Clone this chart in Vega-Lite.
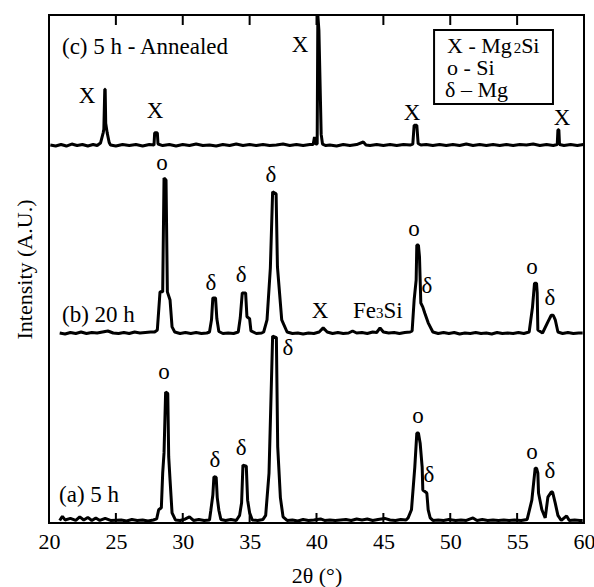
{
"$schema": "https://vega.github.io/schema/vega-lite/v6.json",
"width": 535, "height": 508,
"autosize": {"type": "none"},
"padding": {"left": 49, "top": 15, "right": 10, "bottom": 64},
"background": "white",
"config": {"view": {"stroke": "black", "strokeWidth": 2}, "font": "Liberation Serif"},
"resolve": {"axis": {"x": "independent", "y": "independent"}},
"datasets": {
"trace": [
{"s":"a","t":20.8,"i":0.5},{"s":"a","t":21.0,"i":1.3},{"s":"a","t":21.2,"i":0.6},{"s":"a","t":21.6,"i":0.9},{"s":"a","t":22.0,"i":0.5},{"s":"a","t":22.3,"i":1.2},{"s":"a","t":22.6,"i":0.6},{"s":"a","t":22.9,"i":1.1},{"s":"a","t":23.2,"i":0.5},{"s":"a","t":23.5,"i":1.0},{"s":"a","t":23.8,"i":0.5},{"s":"a","t":24.2,"i":0.9},{"s":"a","t":24.6,"i":0.5},{"s":"a","t":25.4,"i":0.6},{"s":"a","t":25.8,"i":0.4},{"s":"a","t":26.2,"i":0.7},{"s":"a","t":26.6,"i":0.5},{"s":"a","t":27.0,"i":0.6},{"s":"a","t":27.4,"i":0.4},{"s":"a","t":27.8,"i":0.6},{"s":"a","t":28.05,"i":0.8},{"s":"a","t":28.2,"i":2.6},{"s":"a","t":28.4,"i":3.0},{"s":"a","t":28.5,"i":9.8},{"s":"a","t":28.6,"i":13.8},{"s":"a","t":28.72,"i":25.8},{"s":"a","t":28.88,"i":25.5},{"s":"a","t":28.95,"i":13.0},{"s":"a","t":29.05,"i":8.5},{"s":"a","t":29.2,"i":2.0},{"s":"a","t":29.45,"i":0.6},{"s":"a","t":29.8,"i":0.5},{"s":"a","t":30.2,"i":0.8},{"s":"a","t":30.5,"i":1.2},{"s":"a","t":30.8,"i":0.5},{"s":"a","t":31.2,"i":0.7},{"s":"a","t":31.6,"i":0.5},{"s":"a","t":32.0,"i":0.6},{"s":"a","t":32.1,"i":2.5},{"s":"a","t":32.25,"i":5.5},{"s":"a","t":32.33,"i":9.1},{"s":"a","t":32.5,"i":9.0},{"s":"a","t":32.58,"i":5.0},{"s":"a","t":32.7,"i":2.5},{"s":"a","t":32.85,"i":0.7},{"s":"a","t":33.2,"i":0.5},{"s":"a","t":33.6,"i":0.7},{"s":"a","t":34.0,"i":0.5},{"s":"a","t":34.25,"i":1.5},{"s":"a","t":34.4,"i":4.0},{"s":"a","t":34.5,"i":11.4},{"s":"a","t":34.75,"i":11.2},{"s":"a","t":34.85,"i":4.5},{"s":"a","t":35.0,"i":2.0},{"s":"a","t":35.2,"i":0.6},{"s":"a","t":35.6,"i":0.5},{"s":"a","t":36.0,"i":0.7},{"s":"a","t":36.2,"i":1.5},{"s":"a","t":36.45,"i":9.8},{"s":"a","t":36.72,"i":36.8},{"s":"a","t":37.0,"i":36.5},{"s":"a","t":37.1,"i":15.0},{"s":"a","t":37.3,"i":5.0},{"s":"a","t":37.5,"i":1.2},{"s":"a","t":37.8,"i":0.5},{"s":"a","t":38.2,"i":0.6},{"s":"a","t":38.6,"i":0.4},{"s":"a","t":39.0,"i":0.7},{"s":"a","t":39.4,"i":0.5},{"s":"a","t":39.8,"i":0.6},{"s":"a","t":40.3,"i":0.8},{"s":"a","t":40.6,"i":0.5},{"s":"a","t":41.0,"i":0.6},{"s":"a","t":41.4,"i":0.5},{"s":"a","t":41.8,"i":0.6},{"s":"a","t":42.2,"i":0.7},{"s":"a","t":42.6,"i":0.5},{"s":"a","t":43.0,"i":0.8},{"s":"a","t":43.4,"i":0.6},{"s":"a","t":43.8,"i":0.8},{"s":"a","t":44.2,"i":0.5},{"s":"a","t":44.6,"i":0.7},{"s":"a","t":45.1,"i":0.9},{"s":"a","t":45.5,"i":0.6},{"s":"a","t":45.9,"i":0.5},{"s":"a","t":46.3,"i":0.7},{"s":"a","t":46.7,"i":0.6},{"s":"a","t":46.85,"i":1.0},{"s":"a","t":47.1,"i":2.6},{"s":"a","t":47.35,"i":11.0},{"s":"a","t":47.5,"i":17.7},{"s":"a","t":47.62,"i":17.7},{"s":"a","t":47.75,"i":15.7},{"s":"a","t":47.9,"i":11.0},{"s":"a","t":47.95,"i":6.5},{"s":"a","t":48.25,"i":5.9},{"s":"a","t":48.35,"i":2.6},{"s":"a","t":48.5,"i":1.0},{"s":"a","t":48.7,"i":0.5},{"s":"a","t":49.1,"i":0.6},{"s":"a","t":49.5,"i":0.5},{"s":"a","t":49.9,"i":0.7},{"s":"a","t":50.4,"i":0.5},{"s":"a","t":50.8,"i":0.6},{"s":"a","t":51.2,"i":0.5},{"s":"a","t":51.7,"i":1.0},{"s":"a","t":52.0,"i":0.5},{"s":"a","t":52.4,"i":0.7},{"s":"a","t":52.8,"i":0.5},{"s":"a","t":53.2,"i":0.6},{"s":"a","t":53.6,"i":0.5},{"s":"a","t":54.0,"i":0.6},{"s":"a","t":54.4,"i":0.5},{"s":"a","t":54.8,"i":0.6},{"s":"a","t":55.3,"i":0.5},{"s":"a","t":55.75,"i":0.7},{"s":"a","t":56.1,"i":4.5},{"s":"a","t":56.35,"i":10.8},{"s":"a","t":56.45,"i":10.8},{"s":"a","t":56.55,"i":9.8},{"s":"a","t":56.6,"i":5.9},{"s":"a","t":56.85,"i":2.6},{"s":"a","t":57.1,"i":1.0},{"s":"a","t":57.3,"i":5.1},{"s":"a","t":57.55,"i":6.1},{"s":"a","t":57.65,"i":6.1},{"s":"a","t":57.85,"i":3.9},{"s":"a","t":58.05,"i":1.5},{"s":"a","t":58.3,"i":0.5},{"s":"a","t":58.7,"i":1.4},{"s":"a","t":58.9,"i":0.5},{"s":"a","t":59.3,"i":0.6},{"s":"a","t":59.7,"i":0.5},{"s":"a","t":59.9,"i":0.5},
{"s":"b","t":20.8,"i":37.4},{"s":"b","t":21.2,"i":37.2},{"s":"b","t":21.6,"i":37.5},{"s":"b","t":22.0,"i":37.3},{"s":"b","t":22.4,"i":37.6},{"s":"b","t":22.8,"i":37.3},{"s":"b","t":23.2,"i":37.5},{"s":"b","t":23.6,"i":37.4},{"s":"b","t":24.0,"i":37.6},{"s":"b","t":24.4,"i":37.8},{"s":"b","t":24.8,"i":37.4},{"s":"b","t":25.2,"i":37.3},{"s":"b","t":25.6,"i":37.5},{"s":"b","t":26.0,"i":37.3},{"s":"b","t":26.4,"i":37.6},{"s":"b","t":26.8,"i":37.4},{"s":"b","t":27.2,"i":37.5},{"s":"b","t":27.6,"i":37.6},{"s":"b","t":27.9,"i":37.6},{"s":"b","t":28.1,"i":38.0},{"s":"b","t":28.3,"i":45.5},{"s":"b","t":28.5,"i":45.5},{"s":"b","t":28.6,"i":67.9},{"s":"b","t":28.75,"i":67.5},{"s":"b","t":28.85,"i":45.5},{"s":"b","t":29.05,"i":43.9},{"s":"b","t":29.2,"i":38.6},{"s":"b","t":29.4,"i":37.6},{"s":"b","t":29.8,"i":37.3},{"s":"b","t":30.2,"i":37.5},{"s":"b","t":30.6,"i":37.3},{"s":"b","t":31.0,"i":37.5},{"s":"b","t":31.4,"i":37.3},{"s":"b","t":31.8,"i":37.4},{"s":"b","t":32.0,"i":37.6},{"s":"b","t":32.15,"i":40.0},{"s":"b","t":32.25,"i":44.3},{"s":"b","t":32.45,"i":44.3},{"s":"b","t":32.55,"i":40.2},{"s":"b","t":32.7,"i":37.7},{"s":"b","t":33.0,"i":37.3},{"s":"b","t":33.4,"i":37.4},{"s":"b","t":33.8,"i":37.3},{"s":"b","t":34.15,"i":37.6},{"s":"b","t":34.3,"i":40.4},{"s":"b","t":34.45,"i":45.3},{"s":"b","t":34.7,"i":45.3},{"s":"b","t":34.8,"i":40.6},{"s":"b","t":35.0,"i":40.2},{"s":"b","t":35.1,"i":37.8},{"s":"b","t":35.5,"i":37.3},{"s":"b","t":35.9,"i":37.4},{"s":"b","t":36.05,"i":37.6},{"s":"b","t":36.3,"i":40.0},{"s":"b","t":36.55,"i":50.2},{"s":"b","t":36.72,"i":65.2},{"s":"b","t":36.98,"i":64.8},{"s":"b","t":37.08,"i":50.4},{"s":"b","t":37.4,"i":40.0},{"s":"b","t":37.8,"i":37.6},{"s":"b","t":38.2,"i":37.3},{"s":"b","t":38.6,"i":37.4},{"s":"b","t":39.0,"i":37.2},{"s":"b","t":39.4,"i":37.4},{"s":"b","t":39.8,"i":37.3},{"s":"b","t":40.2,"i":37.6},{"s":"b","t":40.5,"i":38.4},{"s":"b","t":40.8,"i":37.6},{"s":"b","t":41.2,"i":37.3},{"s":"b","t":41.6,"i":37.5},{"s":"b","t":42.0,"i":37.3},{"s":"b","t":42.4,"i":37.4},{"s":"b","t":42.7,"i":37.8},{"s":"b","t":43.0,"i":37.4},{"s":"b","t":43.4,"i":37.5},{"s":"b","t":43.8,"i":37.3},{"s":"b","t":44.2,"i":37.6},{"s":"b","t":44.5,"i":37.5},{"s":"b","t":44.75,"i":38.4},{"s":"b","t":45.0,"i":37.6},{"s":"b","t":45.4,"i":37.4},{"s":"b","t":45.8,"i":37.5},{"s":"b","t":46.2,"i":37.3},{"s":"b","t":46.6,"i":37.5},{"s":"b","t":47.0,"i":37.6},{"s":"b","t":47.15,"i":37.8},{"s":"b","t":47.3,"i":43.9},{"s":"b","t":47.45,"i":47.8},{"s":"b","t":47.5,"i":54.7},{"s":"b","t":47.62,"i":54.7},{"s":"b","t":47.7,"i":52.4},{"s":"b","t":47.8,"i":43.3},{"s":"b","t":47.95,"i":42.5},{"s":"b","t":48.1,"i":41.3},{"s":"b","t":48.35,"i":39.4},{"s":"b","t":48.7,"i":37.6},{"s":"b","t":49.1,"i":37.3},{"s":"b","t":49.5,"i":37.5},{"s":"b","t":49.9,"i":37.3},{"s":"b","t":50.3,"i":37.5},{"s":"b","t":50.7,"i":37.2},{"s":"b","t":51.1,"i":37.4},{"s":"b","t":51.5,"i":37.3},{"s":"b","t":51.9,"i":37.5},{"s":"b","t":52.3,"i":37.3},{"s":"b","t":52.7,"i":37.4},{"s":"b","t":53.1,"i":37.2},{"s":"b","t":53.5,"i":37.5},{"s":"b","t":53.9,"i":37.3},{"s":"b","t":54.3,"i":37.4},{"s":"b","t":54.7,"i":37.3},{"s":"b","t":55.1,"i":37.5},{"s":"b","t":55.5,"i":37.3},{"s":"b","t":55.9,"i":37.6},{"s":"b","t":56.15,"i":42.5},{"s":"b","t":56.3,"i":47.2},{"s":"b","t":56.45,"i":47.2},{"s":"b","t":56.5,"i":45.3},{"s":"b","t":56.55,"i":38.0},{"s":"b","t":56.9,"i":37.4},{"s":"b","t":57.3,"i":39.6},{"s":"b","t":57.55,"i":40.9},{"s":"b","t":57.7,"i":40.9},{"s":"b","t":57.85,"i":40.0},{"s":"b","t":58.05,"i":37.6},{"s":"b","t":58.4,"i":37.3},{"s":"b","t":58.8,"i":37.5},{"s":"b","t":59.2,"i":37.3},{"s":"b","t":59.6,"i":37.4},{"s":"b","t":59.9,"i":37.4},
{"s":"c","t":20.1,"i":74.4},{"s":"c","t":20.5,"i":74.2},{"s":"c","t":20.9,"i":74.5},{"s":"c","t":21.3,"i":74.2},{"s":"c","t":21.7,"i":74.6},{"s":"c","t":22.1,"i":74.3},{"s":"c","t":22.5,"i":74.5},{"s":"c","t":22.9,"i":74.2},{"s":"c","t":23.3,"i":74.5},{"s":"c","t":23.6,"i":74.3},{"s":"c","t":23.85,"i":74.8},{"s":"c","t":24.05,"i":76.8},{"s":"c","t":24.1,"i":77.5},{"s":"c","t":24.17,"i":85.4},{"s":"c","t":24.2,"i":85.4},{"s":"c","t":24.24,"i":78.7},{"s":"c","t":24.35,"i":76.8},{"s":"c","t":24.5,"i":74.9},{"s":"c","t":24.6,"i":74.4},{"s":"c","t":25.0,"i":74.2},{"s":"c","t":25.5,"i":74.5},{"s":"c","t":26.0,"i":74.3},{"s":"c","t":26.5,"i":74.5},{"s":"c","t":27.0,"i":74.2},{"s":"c","t":27.5,"i":74.5},{"s":"c","t":27.85,"i":74.4},{"s":"c","t":27.9,"i":76.8},{"s":"c","t":28.1,"i":76.8},{"s":"c","t":28.15,"i":74.6},{"s":"c","t":28.5,"i":74.3},{"s":"c","t":29.0,"i":74.5},{"s":"c","t":29.5,"i":74.2},{"s":"c","t":30.0,"i":74.5},{"s":"c","t":30.5,"i":74.3},{"s":"c","t":31.0,"i":74.6},{"s":"c","t":31.5,"i":74.3},{"s":"c","t":32.0,"i":74.4},{"s":"c","t":32.5,"i":74.2},{"s":"c","t":33.0,"i":74.5},{"s":"c","t":33.5,"i":74.3},{"s":"c","t":34.0,"i":74.6},{"s":"c","t":34.5,"i":74.3},{"s":"c","t":35.0,"i":74.5},{"s":"c","t":35.5,"i":74.3},{"s":"c","t":36.0,"i":74.5},{"s":"c","t":36.5,"i":74.3},{"s":"c","t":37.0,"i":74.4},{"s":"c","t":37.5,"i":74.6},{"s":"c","t":38.0,"i":74.3},{"s":"c","t":38.5,"i":74.5},{"s":"c","t":39.0,"i":74.3},{"s":"c","t":39.5,"i":74.5},{"s":"c","t":39.75,"i":74.5},{"s":"c","t":39.85,"i":76.0},{"s":"c","t":39.95,"i":74.6},{"s":"c","t":40.05,"i":74.6},{"s":"c","t":40.1,"i":100},{"s":"c","t":40.18,"i":97.0},{"s":"c","t":40.35,"i":76.5},{"s":"c","t":40.45,"i":74.6},{"s":"c","t":40.7,"i":74.3},{"s":"c","t":41.0,"i":74.4},{"s":"c","t":41.5,"i":74.2},{"s":"c","t":42.0,"i":74.5},{"s":"c","t":42.5,"i":74.3},{"s":"c","t":43.0,"i":74.5},{"s":"c","t":43.5,"i":75.0},{"s":"c","t":43.7,"i":74.4},{"s":"c","t":44.0,"i":74.3},{"s":"c","t":44.5,"i":74.5},{"s":"c","t":45.0,"i":74.3},{"s":"c","t":45.5,"i":74.5},{"s":"c","t":46.0,"i":74.3},{"s":"c","t":46.5,"i":74.5},{"s":"c","t":47.0,"i":74.4},{"s":"c","t":47.2,"i":74.6},{"s":"c","t":47.3,"i":78.3},{"s":"c","t":47.5,"i":78.3},{"s":"c","t":47.6,"i":74.7},{"s":"c","t":47.8,"i":74.4},{"s":"c","t":48.2,"i":74.5},{"s":"c","t":48.7,"i":74.3},{"s":"c","t":49.2,"i":74.5},{"s":"c","t":49.7,"i":74.3},{"s":"c","t":50.2,"i":74.5},{"s":"c","t":50.7,"i":74.3},{"s":"c","t":51.2,"i":74.6},{"s":"c","t":51.7,"i":74.3},{"s":"c","t":52.2,"i":74.5},{"s":"c","t":52.7,"i":74.3},{"s":"c","t":53.2,"i":74.5},{"s":"c","t":53.7,"i":74.3},{"s":"c","t":54.2,"i":74.5},{"s":"c","t":54.7,"i":74.3},{"s":"c","t":55.2,"i":74.5},{"s":"c","t":55.7,"i":74.4},{"s":"c","t":56.2,"i":74.6},{"s":"c","t":56.7,"i":74.3},{"s":"c","t":57.2,"i":74.5},{"s":"c","t":57.7,"i":74.3},{"s":"c","t":58.0,"i":74.5},{"s":"c","t":58.05,"i":77.4},{"s":"c","t":58.12,"i":77.4},{"s":"c","t":58.17,"i":74.5},{"s":"c","t":58.5,"i":74.3},{"s":"c","t":59.0,"i":74.5},{"s":"c","t":59.5,"i":74.3},{"s":"c","t":59.95,"i":74.5}
],
"peaks": [
{"t":22.84,"i":82.68,"txt":"X"},{"t":27.93,"i":79.72,"txt":"X"},{"t":38.77,"i":92.72,"txt":"X"},{"t":47.14,"i":79.33,"txt":"X"},{"t":58.36,"i":78.35,"txt":"X"},
{"t":28.45,"i":69.49,"txt":"o"},{"t":32.11,"i":45.87,"txt":"δ"},{"t":34.36,"i":47.44,"txt":"δ"},{"t":36.6,"i":67.13,"txt":"δ"},{"t":40.26,"i":40.35,"txt":"X"},{"t":47.29,"i":56.5,"txt":"o"},{"t":48.26,"i":45.28,"txt":"δ"},{"t":56.11,"i":49.02,"txt":"o"},{"t":57.46,"i":42.91,"txt":"δ"},
{"t":28.6,"i":28.35,"txt":"o"},{"t":32.41,"i":11.02,"txt":"δ"},{"t":34.36,"i":13.39,"txt":"δ"},{"t":37.87,"i":33.07,"txt":"δ"},{"t":47.59,"i":19.69,"txt":"o"},{"t":48.41,"i":8.07,"txt":"δ"},{"t":56.11,"i":12.6,"txt":"o"},{"t":57.46,"i":8.86,"txt":"δ"}
],
"notes": [
{"t":20.97,"i":92.32,"txt":"(c) 5 h - Annealed"},{"t":20.97,"i":39.57,"txt":"(b) 20 h"},{"t":20.75,"i":4.13,"txt":"(a) 5 h"},
{"t":42.73,"i":40.35,"txt":"Fe"},{"t":45.01,"i":40.35,"txt":"Si"}
],
"legend": [
{"t":49.76,"i":92.52,"txt":"X - Mg"},{"t":55.3,"i":92.52,"txt":"Si"},{"t":49.76,"i":88.19,"txt":"o - Si"},{"t":49.61,"i":83.86,"txt":"δ – Mg"}
],
"small": [
{"t":54.74,"i":92.52,"txt":"2"},{"t":44.45,"i":40.35,"txt":"3"}
],
"ticks": [{"t":25},{"t":30},{"t":35},{"t":40},{"t":45},{"t":50},{"t":55}],
"box": [{"t1":48.79,"t2":57.68,"i1":82.48,"i2":97.05}]
},
"layer": [
{"data": {"name": "trace"},
 "mark": {"type": "line", "color": "black", "strokeWidth": 3, "strokeJoin": "bevel"},
 "encoding": {
  "x": {"field": "t", "type": "quantitative", "scale": {"domain": [20, 60], "nice": false, "zero": false},
        "axis": {"orient": "bottom", "title": "2θ (°)", "values": [20,25,30,35,40,45,50,55,60], "grid": false, "domain": false, "ticks": false, "labelPadding": 8, "labelFontSize": 22, "labelColor": "black", "labelFont": "Liberation Serif", "titleFont": "Liberation Serif", "titleFontSize": 22, "titleFontWeight": "normal", "titleColor": "black", "titlePadding": 13, "labelFlush": false}},
  "y": {"field": "i", "type": "quantitative", "scale": {"domain": [0, 100], "nice": false},
        "axis": {"title": "Intensity (A.U.)", "labels": false, "ticks": false, "domain": false, "grid": false, "titleFont": "Liberation Serif", "titleFontSize": 22, "titleFontWeight": "normal", "titleColor": "black", "titlePadding": 13}},
  "detail": {"field": "s"},
  "order": {"field": "t", "type": "quantitative"}
 }},
{"data": {"name": "box"},
 "mark": {"type": "rect", "fill": "white", "stroke": "black", "strokeWidth": 2},
 "encoding": {
  "x": {"field": "t1", "type": "quantitative", "axis": null},
  "x2": {"field": "t2"},
  "y": {"field": "i1", "type": "quantitative", "axis": null},
  "y2": {"field": "i2"}
 }},
{"data": {"name": "ticks"},
 "mark": {"type": "rule", "color": "black", "strokeWidth": 2},
 "encoding": {
  "x": {"field": "t", "type": "quantitative", "axis": null},
  "y": {"datum": 100, "type": "quantitative", "axis": null},
  "y2": {"datum": 98.03}
 }},
{"data": {"name": "ticks"},
 "mark": {"type": "rule", "color": "black", "strokeWidth": 2},
 "encoding": {
  "x": {"field": "t", "type": "quantitative", "axis": null},
  "y": {"datum": 0, "type": "quantitative", "axis": null},
  "y2": {"datum": 1.97}
 }},
{"data": {"name": "peaks"},
 "mark": {"type": "text", "font": "Liberation Serif", "fontSize": 23, "align": "center", "baseline": "alphabetic", "color": "black"},
 "encoding": {
  "x": {"field": "t", "type": "quantitative", "axis": null},
  "y": {"field": "i", "type": "quantitative", "axis": null},
  "text": {"field": "txt"}
 }},
{"data": {"name": "notes"},
 "mark": {"type": "text", "font": "Liberation Serif", "fontSize": 23, "align": "left", "baseline": "alphabetic", "color": "black"},
 "encoding": {
  "x": {"field": "t", "type": "quantitative", "axis": null},
  "y": {"field": "i", "type": "quantitative", "axis": null},
  "text": {"field": "txt"}
 }},
{"data": {"name": "legend"},
 "mark": {"type": "text", "font": "Liberation Serif", "fontSize": 22, "align": "left", "baseline": "alphabetic", "color": "black"},
 "encoding": {
  "x": {"field": "t", "type": "quantitative", "axis": null},
  "y": {"field": "i", "type": "quantitative", "axis": null},
  "text": {"field": "txt"}
 }},
{"data": {"name": "small"},
 "mark": {"type": "text", "font": "Liberation Serif", "fontSize": 15, "align": "left", "baseline": "alphabetic", "color": "black"},
 "encoding": {
  "x": {"field": "t", "type": "quantitative", "axis": null},
  "y": {"field": "i", "type": "quantitative", "axis": null},
  "text": {"field": "txt"}
 }}
]
}
